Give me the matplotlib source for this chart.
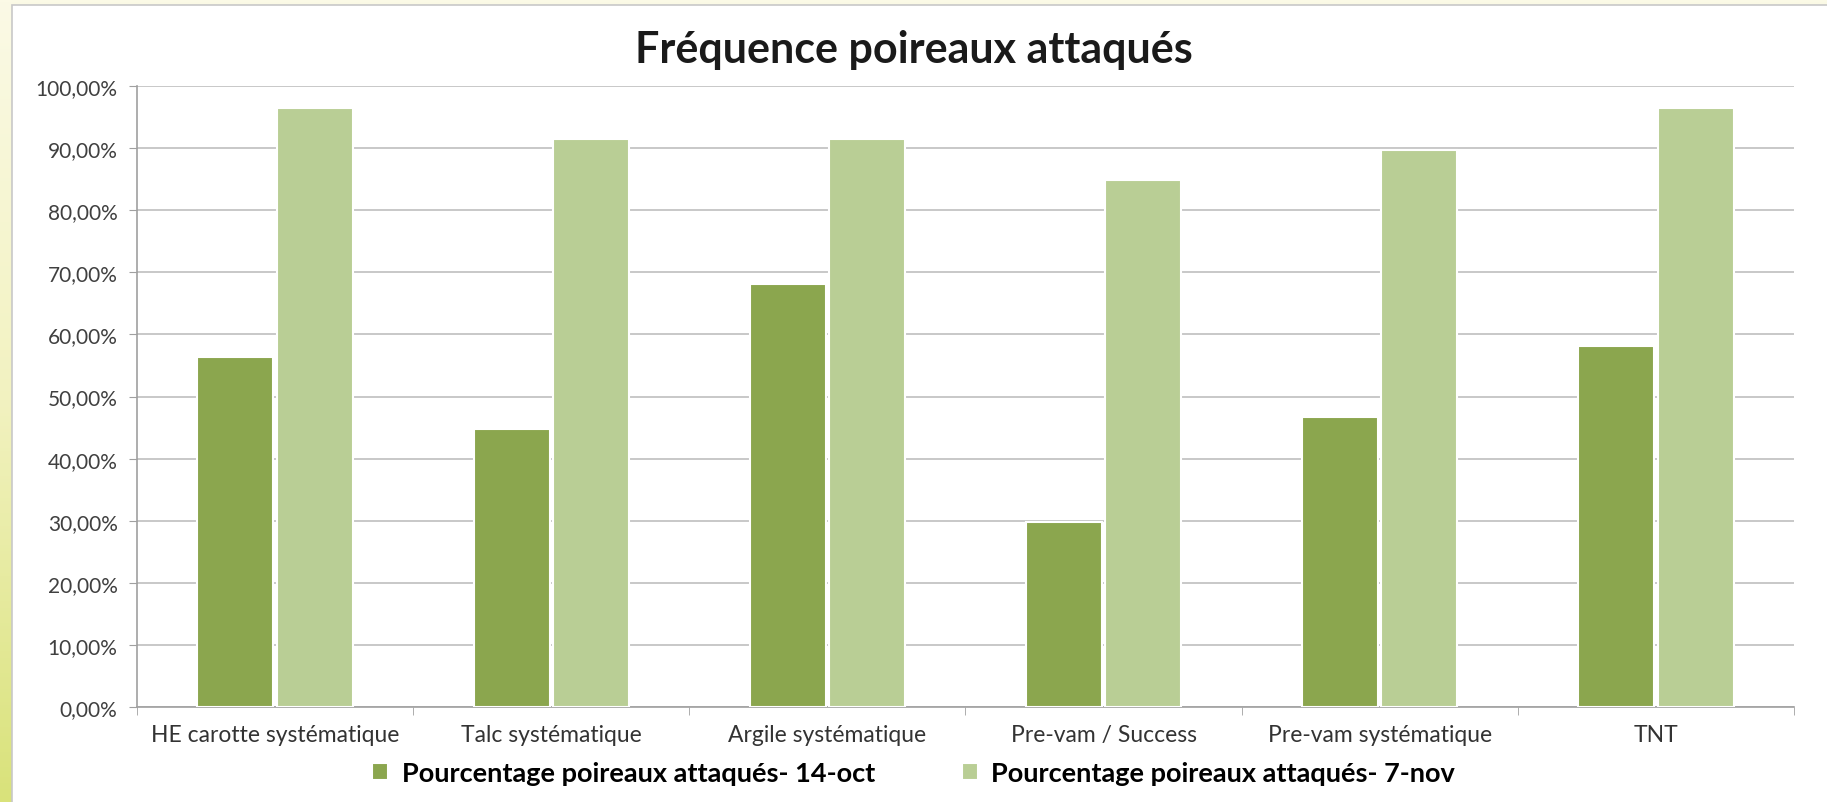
import numpy as np
import matplotlib
matplotlib.use("Agg")
import matplotlib.pyplot as plt
from matplotlib.patches import Rectangle
from matplotlib.colors import LinearSegmentedColormap
from matplotlib.ticker import FuncFormatter, MultipleLocator

plt.rcParams['font.family'] = ['Lato', 'DejaVu Sans']

categories = ["HE carotte systématique", "Talc systématique", "Argile systématique",
              "Pre-vam / Success", "Pre-vam systématique", "TNT"]
oct14 = [56.3, 44.8, 68.1, 29.8, 46.7, 58.2]
nov7 = [96.4, 91.4, 91.4, 84.8, 89.7, 96.4]
series_names = ["Pourcentage poireaux attaqués- 14-oct", "Pourcentage poireaux attaqués- 7-nov"]
colors = ["#8BA64E", "#B9CE95"]

W, H = 1827, 803
fig = plt.figure(figsize=(W / 100, H / 100), dpi=100)

# slide background: yellow-green gradient strip on the left
bg = fig.add_axes([0, 0, 1, 1], zorder=-10)
grad = np.linspace(0, 1, 256).reshape(-1, 1)
cmap = LinearSegmentedColormap.from_list("slide", ["#FBFAE6", "#F2F2C0", "#D9E27A"])
bg.imshow(grad, aspect="auto", cmap=cmap, extent=[0, 1, 0, 1])
bg.set_xlim(0, 1)
bg.set_ylim(0, 1)
bg.axis("off")
# white chart frame
bg.add_patch(Rectangle((12 / W, -0.01), 1, 1 - 6 / H + 0.01, facecolor="white",
                       edgecolor="#C8C8C8", linewidth=1.2))

ax = fig.add_axes([137 / W, (H - 708) / H, (1794 - 137) / W, (708 - 87) / H])
x = np.arange(len(categories))
bw = 0.275
ax.bar(x - bw / 2 - 0.006, oct14, bw, color=colors[0], edgecolor="white", linewidth=1.5,
       label=series_names[0], zorder=3)
ax.bar(x + bw / 2 + 0.006, nov7, bw, color=colors[1], edgecolor="white", linewidth=1.5,
       label=series_names[1], zorder=3)

ax.set_xlim(-0.5, len(categories) - 0.5)
ax.set_ylim(0, 100)
ax.yaxis.set_major_locator(MultipleLocator(10))
ax.yaxis.set_major_formatter(FuncFormatter(lambda v, p: f"{v:.2f}".replace(".", ",") + "%"))
ax.grid(axis="y", color="#BFBFBF", linewidth=1.2, zorder=0)
ax.set_axisbelow(True)

ax.set_xticks(x)
ax.set_xticklabels(categories)
ax.set_xticks(np.arange(-0.5, len(categories)), minor=True)
ax.tick_params(axis="x", which="major", length=0, pad=12, labelsize=16.5, labelcolor="#333333")
ax.tick_params(axis="x", which="minor", length=6, color="#A0A0A0")
ax.tick_params(axis="y", length=6, color="#A0A0A0", labelsize=15, labelcolor="#404040", pad=8)

for s in ["top", "right"]:
    ax.spines[s].set_visible(False)
for s in ["left", "bottom"]:
    ax.spines[s].set_color("#A0A0A0")
    ax.spines[s].set_linewidth(1.2)

fig.text(0.5, 1 - 50 / H, "Fréquence poireaux attaqués", ha="center", va="center",
         fontsize=31, fontweight="bold", color="#1A1A1A")

fig.legend(loc="center", bbox_to_anchor=(0.5, 1 - 774 / H), ncol=2, frameon=False,
           prop={"weight": "bold", "size": 19.5}, handlelength=0.6, handleheight=0.6,
           handletextpad=0.5, columnspacing=3.2)

fig.savefig("out.png", dpi=100)
